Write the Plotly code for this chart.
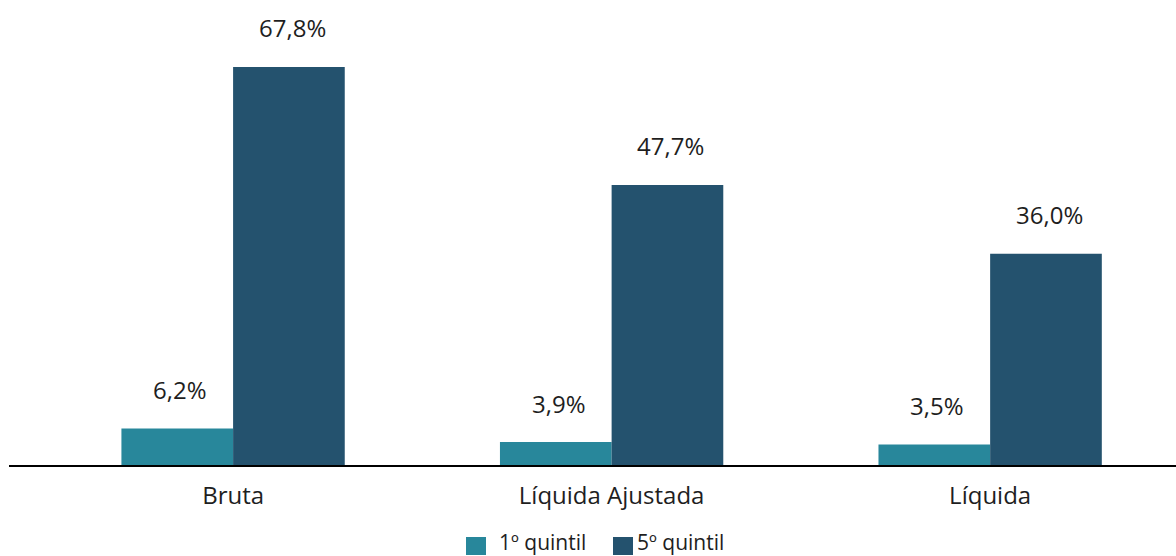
import plotly.graph_objects as go

categories = ["Bruta", "Líquida Ajustada", "Líquida"]
series_names = ["1º quintil", "5º quintil"]
q1_values = [6.2, 3.9, 3.5]
q5_values = [67.8, 47.7, 36.0]
colors = ["#28879B", "#24526E"]

FONT = "Open Sans"
TXT = "#1e1e1e"

def fmt(v):
    return f"{v:.1f}".replace(".", ",") + "%"

fig = go.Figure()
offsets = [-56, 56]
for name, vals, col, dx in zip(series_names, [q1_values, q5_values], colors, offsets):
    fig.add_trace(go.Bar(
        x=categories, y=vals, name=name, marker=dict(color=col, line=dict(width=0)),
        showlegend=False, hoverinfo="skip",
    ))
    for c, v in zip(categories, vals):
        fig.add_annotation(x=c, y=v, xref="x", yref="y", text=fmt(v), showarrow=False,
                           xshift=dx + 3, yshift=39, yanchor="middle",
                           font=dict(family=FONT, size=24, color=TXT))

# custom legend (squares + labels) below the axis
PW, PH, L, B = 1167, 465, 9, 465
legend_x = [466, 613]
text_x = [497, 635]
for name, col, sx, tx in zip(series_names, colors, legend_x, text_x):
    fig.add_shape(type="rect", xref="paper", yref="paper",
                  x0=(sx - L) / PW, x1=(sx + 20 - L) / PW,
                  y0=-(555 - B) / PH, y1=-(537 - B) / PH,
                  fillcolor=col, line=dict(width=0))
    fig.add_annotation(xref="paper", yref="paper", x=(tx - L) / PW, y=-(542 - B) / PH,
                       text=name, showarrow=False, xanchor="left", yanchor="middle",
                       font=dict(family=FONT, size=21, color=TXT))

fig.update_layout(
    width=1176, height=556,
    margin=dict(l=9, r=0, t=0, b=91),
    paper_bgcolor="white", plot_bgcolor="white",
    barmode="group", bargap=0.41, bargroupgap=0,
    showlegend=False,
    font=dict(family=FONT, size=20, color=TXT),
)
fig.update_xaxes(
    range=[-0.592, 2.491], showline=True, linecolor="black", linewidth=2,
    showgrid=False, ticks="", tickfont=dict(family=FONT, size=24, color=TXT),
    ticklabelstandoff=8,
)
fig.update_yaxes(range=[0, 79.2], visible=False, showgrid=False, zeroline=False)

fig.write_html("out.html", config={"displayModeBar": False},
               post_script="document.body.style.margin='0';")
